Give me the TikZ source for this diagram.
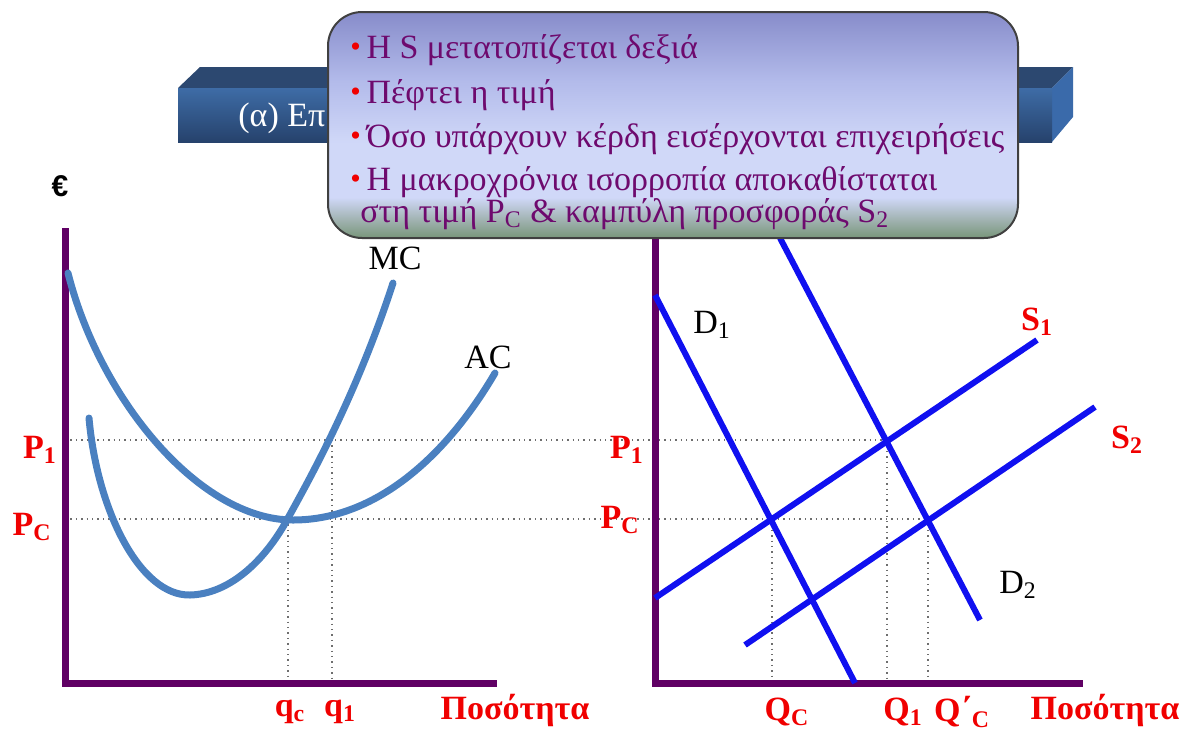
\documentclass[tikz,border=0pt]{standalone}
\usepackage{fontspec}
\setmainfont{Liberation Serif}
\newfontfamily\eurofont{Liberation Sans}
\usetikzlibrary{positioning}
\definecolor{axpurple}{RGB}{96,0,100}
\definecolor{costblue}{RGB}{74,128,192}
\definecolor{mktblue}{RGB}{16,16,240}
\definecolor{txpurple}{RGB}{110,10,110}
\definecolor{lblred}{RGB}{240,0,0}
\definecolor{dotgrey}{RGB}{110,110,110}
\definecolor{barfront}{RGB}{62,108,166}
\definecolor{barfrontdk}{RGB}{38,66,108}
\definecolor{bartop}{RGB}{44,72,112}
\definecolor{barside}{RGB}{58,106,170}
\definecolor{bxtop}{RGB}{135,140,202}
\definecolor{bxmid}{RGB}{178,186,234}
\definecolor{bxlight}{RGB}{208,216,248}
\definecolor{bxlow}{RGB}{160,178,176}
\definecolor{bxbot}{RGB}{120,150,122}
\pgfdeclareverticalshading{boxfill}{100bp}{color(0bp)=(bxbot); color(25bp)=(bxbot);
  color(29bp)=(bxlow); color(34bp)=(bxlight); color(46bp)=(bxlight);
  color(60bp)=(bxmid); color(75bp)=(bxtop); color(100bp)=(bxtop)}
\newcommand\bul{{\color{lblred}\fontsize{15}{15}\selectfont\raisebox{0.1ex}{•}}\,}

\begin{document}
\begin{tikzpicture}[x=0.5pt,y=-0.5pt,
  axis/.style={line width=3.5pt,color=axpurple},
  cost/.style={line width=3.5pt,color=costblue,line cap=round},
  mkt/.style={line width=3pt,color=mktblue},
  guide/.style={line width=0.7pt,color=dotgrey,dotted},
  pval/.style={font=\fontsize{17}{17}\selectfont\bfseries,text=lblred,inner sep=0pt},
  crv/.style={font=\fontsize{17}{17}\selectfont,inner sep=0pt},
  item/.style={anchor=base west,font=\fontsize{17}{17}\selectfont,text=txpurple,inner sep=0pt}]
\useasboundingbox (0,0) rectangle (1195,730);

% title bar behind the box
\fill[bartop] (178,88) -- (200,67) -- (1073,67) -- (1052,88) -- cycle;
\fill[barside] (1052,88) -- (1073,67) -- (1073,117) -- (1052,142) -- cycle;
\shade[top color=barfront,bottom color=barfrontdk] (178,88) rectangle (1052,142);
\node[anchor=west,text=white,font=\fontsize{17}{17}\selectfont,inner sep=0pt] (title) at (238,118) {(α) Επ};

% guides
\draw[guide] (65,440) -- (887,440);
\draw[guide] (65,519) -- (928,519);
\draw[guide] (288,519) -- (288,683);
\draw[guide] (332,440) -- (332,683);
\draw[guide] (772,519) -- (772,683);
\draw[guide] (887,440) -- (887,683);
\draw[guide] (928,519) -- (928,683);

% firm
\draw[axis] (65,228) -- (65,683) -- (497,683);
\draw[cost] (68,273) .. controls (100,400) and (200,520) .. (293,520)
  .. controls (380,520) and (450,450) .. (495,373);
\draw[cost] (89,418) .. controls (97,510) and (140,596) .. (190,595)
  .. controls (230,594) and (265,560) .. (287,520)
  .. controls (305,487) and (355,400) .. (393,283);

% market
\draw[axis] (655,228) -- (655,683) -- (1083,683);
\draw[mkt] (655,295) -- (855,683);
\draw[mkt] (780,238) -- (980,620);
\draw[mkt] (655,598) -- (1037,340);
\draw[mkt] (745,645) -- (1095,407);

% text box
\path[shading=boxfill,draw=black!75,line width=1pt,rounded corners=17pt] (328,12) rectangle (1018,238);
\node[item] (l1) at (350,58) {\bul Η S μετατοπίζεται δεξιά};
\node[item] (l2) at (350,103) {\bul Πέφτει η τιμή};
\node[item] (l3) at (350,147) {\bul Όσο υπάρχουν κέρδη εισέρχονται επιχειρήσεις};
\node[item] (l4) at (350,190) {\bul Η μακροχρόνια ισορροπία αποκαθίσταται};
\node[item] (l5) at (360,222) {στη τιμή P\textsubscript{C} \& καμπύλη προσφοράς S\textsubscript{2}};

% labels, firm
\node[font=\eurofont\fontsize{15}{15}\selectfont\bfseries,inner sep=0pt] (euro) at (60,186) {€};
\node[pval] (p1a) at (40,450) {P\textsubscript{1}};
\node[pval] (pca) at (32,527) {P\textsubscript{C}};
\node[crv] (mc) at (395,258) {MC};
\node[crv] (ac) at (488,357) {AC};
\node[pval] (qc) at (290,712) {q\textsubscript{c}};
\node[pval] (q1) at (340,712) {q\textsubscript{1}};
\node[pval] (qa) at (515,710) {Ποσότητα};

% labels, market
\node[pval] (p1b) at (627,450) {P\textsubscript{1}};
\node[pval] (pcb) at (620,520) {P\textsubscript{C}};
\node[crv] (d1) at (712,325) {D\textsubscript{1}};
\node[crv] (d2) at (1018,585) {D\textsubscript{2}};
\node[pval] (s1) at (1037,322) {S\textsubscript{1}};
\node[pval] (s2) at (1127,440) {S\textsubscript{2}};
\node[pval] (qcb) at (787,712) {Q\textsubscript{C}};
\node[pval] (q1b) at (903,712) {Q\textsubscript{1}};
\node[pval] (qcp) at (962,712) {Q΄\textsubscript{C}};
\node[pval] (qb) at (1105,710) {Ποσότητα};
\end{tikzpicture}
\end{document}
